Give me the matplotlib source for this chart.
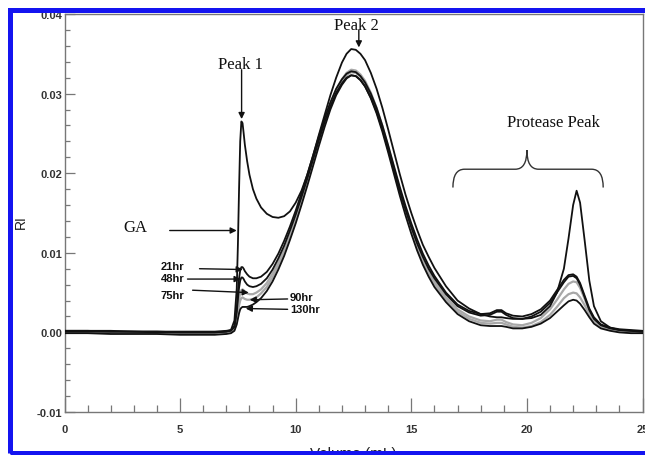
import numpy as np
import matplotlib
matplotlib.use('Agg')
import matplotlib.pyplot as plt
from matplotlib.path import Path
from matplotlib.patches import PathPatch, Rectangle
from matplotlib.ticker import MultipleLocator, FormatStrFormatter

# elution volume (mL)
volume = [0, 1, 2, 3, 4, 5, 6, 6.5, 7, 7.2,
          7.35, 7.45, 7.5, 7.55, 7.6, 7.65, 7.7, 7.75, 7.8, 7.9,
          8.0, 8.15, 8.3, 8.5, 8.75, 9.0, 9.25, 9.5, 9.75, 10.0,
          10.25, 10.5, 10.75, 11.0, 11.25, 11.5, 11.75, 12.0, 12.2, 12.4,
          12.6, 12.8, 13.0, 13.25, 13.5, 13.75, 14.0, 14.25, 14.5, 14.75,
          15.0, 15.25, 15.5, 15.75, 16.0, 16.5, 17.0, 17.5, 18.0, 18.4,
          18.7, 18.9, 19.1, 19.4, 19.8, 20.2, 20.6, 21.0, 21.3, 21.6,
          21.8, 22.0, 22.15, 22.3, 22.5, 22.7, 22.9, 23.2, 23.6, 24.0,
          24.5, 25.0]

# RI signal, in units of 1e-3
ri_ga = [0.2, 0.2, 0.1, 0.1, 0.1, 0.0, 0.0, 0.0, 0.1, 0.3,
         1.5, 5.5, 11.0, 18.0, 24.0, 26.5, 26.3, 25.0, 23.6, 21.5,
         19.8, 18.0, 16.8, 15.7, 14.9, 14.5, 14.4, 14.6, 15.2, 16.3,
         17.8, 19.8, 22.2, 24.8, 27.3, 29.8, 32.0, 33.9, 35.0, 35.6,
         35.5, 35.0, 34.2, 32.6, 30.6, 28.2, 25.5, 22.7, 19.9, 17.3,
         15.0, 12.9, 11.0, 9.5, 8.1, 5.8, 4.0, 3.0, 2.3, 2.0,
         1.9, 1.9, 1.8, 1.7, 1.7, 1.8, 2.2, 3.3, 5.0, 8.0,
         11.8, 16.0, 17.8, 16.3, 11.5, 6.5, 3.3, 1.4, 0.6, 0.3,
         0.2, 0.1]
ri_21 = [0.2, 0.2, 0.2, 0.1, 0.1, 0.1, 0.1, 0.1, 0.2, 0.3,
         0.8, 3.0, 5.0, 6.8, 7.8, 8.2, 8.2, 8.0, 7.7, 7.3,
         7.0, 6.8, 6.8, 7.0, 7.6, 8.6, 9.9, 11.5, 13.3, 15.3,
         17.5, 19.8, 22.2, 24.6, 26.9, 28.9, 30.6, 31.8, 32.5, 32.8,
         32.7, 32.2, 31.4, 30.0, 28.2, 26.0, 23.5, 20.9, 18.3, 15.9,
         13.7, 11.7, 9.9, 8.4, 7.1, 5.0, 3.5, 2.7, 2.3, 2.4,
         2.8, 2.8, 2.4, 2.1, 2.0, 2.3, 2.9, 4.0, 5.3, 6.6,
         7.2, 7.3, 7.0, 6.2, 4.6, 3.0, 1.9, 1.0, 0.6, 0.4,
         0.3, 0.2]
ri_48 = [0.1, 0.1, 0.1, 0.1, 0.0, 0.0, 0.0, 0.0, 0.1, 0.2,
         0.7, 2.5, 4.2, 5.6, 6.5, 6.9, 6.9, 6.7, 6.4, 6.0,
         5.8, 5.7, 5.8, 6.1, 6.8, 7.9, 9.3, 10.9, 12.8, 14.8,
         17.0, 19.3, 21.7, 24.1, 26.4, 28.4, 30.1, 31.3, 32.0, 32.3,
         32.2, 31.7, 30.9, 29.5, 27.7, 25.5, 23.0, 20.4, 17.8, 15.4,
         13.2, 11.2, 9.5, 8.0, 6.8, 4.8, 3.3, 2.5, 2.1, 2.2,
         2.6, 2.6, 2.2, 1.8, 1.7, 2.0, 2.6, 3.7, 5.0, 6.3,
         7.0, 7.1, 6.8, 6.0, 4.4, 2.8, 1.7, 0.9, 0.5, 0.3,
         0.2, 0.1]
ri_75 = [0.0, 0.0, 0.0, 0.0, -0.1, -0.1, -0.1, -0.1, 0.0, 0.1,
         0.5, 1.8, 3.0, 4.2, 5.0, 5.3, 5.4, 5.3, 5.1, 4.9,
         4.8, 4.8, 5.0, 5.4, 6.2, 7.4, 8.8, 10.5, 12.4, 14.5,
         16.8, 19.2, 21.7, 24.2, 26.6, 28.7, 30.5, 31.8, 32.6, 33.0,
         32.9, 32.4, 31.6, 30.1, 28.2, 25.9, 23.3, 20.6, 17.9, 15.4,
         13.1, 11.0, 9.2, 7.7, 6.4, 4.4, 2.9, 2.0, 1.5, 1.4,
         1.6, 1.6, 1.3, 1.0, 0.9, 1.2, 1.8, 2.9, 4.1, 5.4,
         6.1, 6.4, 6.3, 5.6, 4.2, 2.7, 1.6, 0.8, 0.4, 0.2,
         0.1, 0.0]
ri_90 = [0.0, 0.0, -0.1, -0.1, -0.1, -0.2, -0.2, -0.2, -0.1, 0.0,
         0.4, 1.4, 2.4, 3.4, 4.0, 4.3, 4.4, 4.3, 4.2, 4.1,
         4.1, 4.2, 4.4, 4.9, 5.7, 6.9, 8.4, 10.1, 12.0, 14.1,
         16.4, 18.8, 21.3, 23.8, 26.2, 28.4, 30.2, 31.5, 32.3, 32.7,
         32.6, 32.1, 31.3, 29.8, 27.9, 25.6, 23.0, 20.3, 17.6, 15.1,
         12.8, 10.7, 8.9, 7.4, 6.1, 4.1, 2.6, 1.7, 1.2, 1.1,
         1.2, 1.2, 1.0, 0.7, 0.6, 0.8, 1.3, 2.2, 3.2, 4.3,
         4.8, 5.0, 4.9, 4.4, 3.4, 2.3, 1.4, 0.7, 0.3, 0.1,
         0.0, 0.0]
ri_130 = [-0.1, -0.1, -0.2, -0.2, -0.2, -0.3, -0.3, -0.3, -0.2, -0.1,
          0.2, 1.0, 1.7, 2.4, 2.9, 3.1, 3.2, 3.2, 3.2, 3.2,
          3.3, 3.5, 3.8, 4.3, 5.2, 6.4, 7.9, 9.6, 11.6, 13.7,
          16.0, 18.4, 20.9, 23.4, 25.8, 28.0, 29.8, 31.1, 31.9, 32.3,
          32.2, 31.7, 30.9, 29.4, 27.5, 25.2, 22.6, 19.9, 17.2, 14.7,
          12.4, 10.3, 8.5, 7.0, 5.7, 3.8, 2.3, 1.4, 0.9, 0.8,
          0.8, 0.8, 0.7, 0.5, 0.5, 0.7, 1.1, 1.8, 2.6, 3.4,
          3.9, 4.1, 4.0, 3.6, 2.8, 1.9, 1.1, 0.5, 0.2, 0.0,
          -0.1, -0.1]

x = np.array(volume)
gray_curves = [ri_75, ri_90]
black_curves = [ri_130, ri_48, ri_21, ri_ga]

fig = plt.figure(figsize=(6.45, 4.56), dpi=100)
ax = fig.add_axes([64.5 / 645, 43 / 456, 578 / 645, 398 / 456])

for y in gray_curves:
    ax.plot(x, np.array(y) / 1000, color='#a8a8a8', lw=1.6, zorder=2)
for y in black_curves:
    ax.plot(x, np.array(y) / 1000, color='#111111', lw=1.3, zorder=3)

ax.set_xlim(0, 25)
ax.set_ylim(-0.01, 0.04)
ax.xaxis.set_major_locator(MultipleLocator(5))
ax.xaxis.set_minor_locator(MultipleLocator(1))
ax.yaxis.set_major_locator(MultipleLocator(0.01))
ax.yaxis.set_minor_locator(MultipleLocator(0.002))
ax.yaxis.set_major_formatter(FormatStrFormatter('%.2f'))

for s in ax.spines.values():
    s.set_color('#777777')
    s.set_linewidth(1.0)
ax.tick_params(which='both', direction='in', color='#777777', width=0.9,
               top=False, right=False)
ax.tick_params(axis='x', which='major', length=10, pad=9)
ax.tick_params(axis='x', which='minor', length=5)
ax.tick_params(axis='y', which='major', length=7, pad=1.5)
ax.tick_params(axis='y', which='minor', length=3.5)
for lab in ax.get_xticklabels() + ax.get_yticklabels():
    lab.set_fontfamily('Liberation Sans')
    lab.set_fontweight('bold')
    lab.set_fontsize(8)
    lab.set_color('#333333')

ax.set_xlabel('Volume (mL)', fontfamily='Liberation Sans', fontsize=11, color='#222222')
ax.xaxis.set_label_coords(0.5, -0.085)
ax.set_ylabel('RI', fontfamily='Liberation Sans', fontsize=10, color='#222222')
ax.yaxis.set_label_coords(-0.064, 0.48)

serif = dict(fontfamily='Liberation Serif', fontsize=12, color='#111111')
arrow = dict(arrowstyle='-|>', color='#111111', lw=1.0, mutation_scale=9,
             shrinkA=0, shrinkB=0)

ax.text(7.62, 0.0337, 'Peak 1', ha='center', va='center', **serif)
ax.annotate('', xy=(7.66, 0.0268), xytext=(7.66, 0.0330), arrowprops=arrow)
ax.text(12.64, 0.0386, 'Peak 2', ha='center', va='center', **serif)
ax.annotate('', xy=(12.73, 0.0358), xytext=(12.73, 0.0380), arrowprops=arrow)
ax.text(3.07, 0.0133, 'GA', ha='center', va='center', **serif)
ax.annotate('', xy=(7.45, 0.0128), xytext=(4.55, 0.0128), arrowprops=arrow)
ax.text(21.13, 0.0264, 'Protease Peak', ha='center', va='center', **serif)

# curly brace over the protease region
xl, xm, xr = 16.8, 20.0, 23.3
ye, yb, yt = 0.0182, 0.0205, 0.0229
verts = [(xl, ye), (xl, yb), (xl + 0.5, yb), (xm - 0.5, yb), (xm, yb), (xm, yt),
         (xm, yb), (xm + 0.5, yb), (xr - 0.5, yb), (xr, yb), (xr, ye)]
codes = [Path.MOVETO, Path.CURVE3, Path.CURVE3, Path.LINETO, Path.CURVE3, Path.CURVE3,
         Path.CURVE3, Path.CURVE3, Path.LINETO, Path.CURVE3, Path.CURVE3]
ax.add_patch(PathPatch(Path(verts, codes), fill=False, lw=1.0, ec='#333333'))

hr = dict(fontfamily='Liberation Sans', fontweight='bold', fontsize=8, color='#111111')
ax.text(4.68, 0.0083, '21hr', ha='center', va='center', **hr)
ax.annotate('', xy=(7.71, 0.0079), xytext=(5.84, 0.0080), arrowprops=arrow)
ax.text(4.68, 0.0068, '48hr', ha='center', va='center', **hr)
ax.annotate('', xy=(7.62, 0.0067), xytext=(5.32, 0.0067), arrowprops=arrow)
ax.text(4.68, 0.0047, '75hr', ha='center', va='center', **hr)
ax.annotate('', xy=(7.97, 0.0050), xytext=(5.54, 0.0053), arrowprops=arrow)
ax.text(9.75, 0.0044, '90hr', ha='left', va='center', **hr)
ax.annotate('', xy=(8.01, 0.0041), xytext=(9.65, 0.0042), arrowprops=arrow)
ax.text(9.75, 0.0029, '130hr', ha='left', va='center', **hr)
ax.annotate('', xy=(7.84, 0.0030), xytext=(9.65, 0.0029), arrowprops=arrow)

# blue frame around the figure (right side cut off)
fig.add_artist(Rectangle((9.5 / 645, 2 / 456), 1.2, 443.5 / 456, transform=fig.transFigure,
                         fill=False, ec='#1414f0', lw=3.6, zorder=10))

fig.savefig('out.png', dpi=100)
